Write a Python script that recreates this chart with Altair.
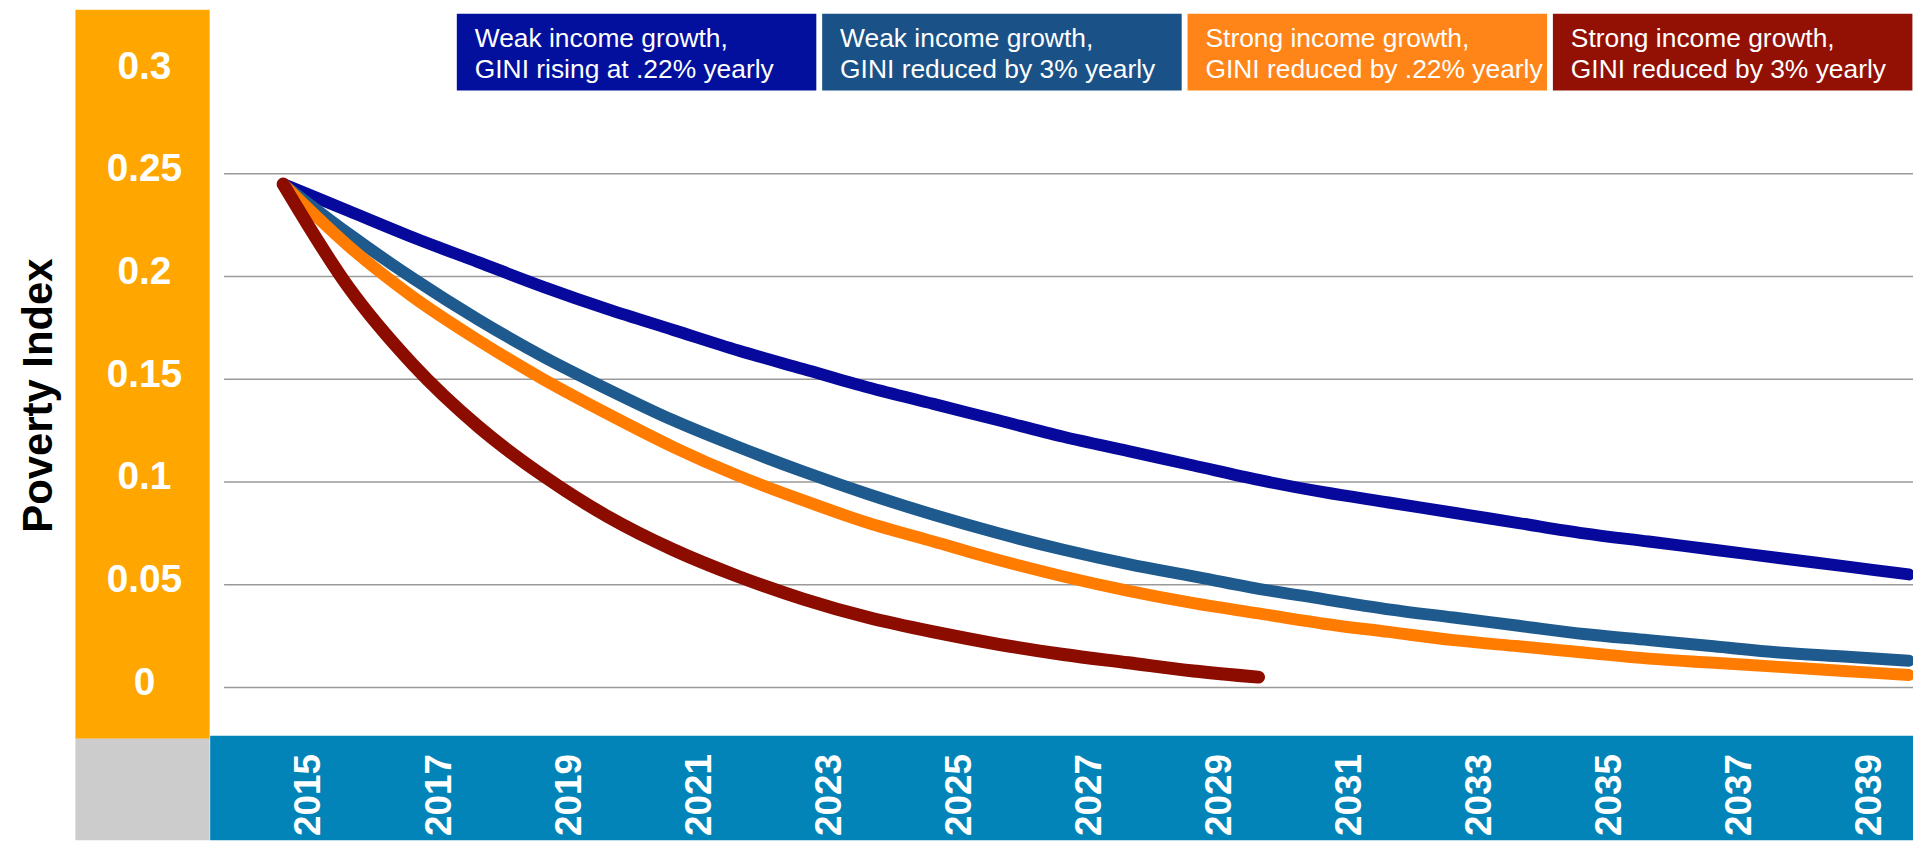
import altair as alt
import pandas as pd

# ---------------- data ----------------
years = list(range(2015, 2041))
years_short = list(range(2015, 2031))

weak_gini_rising = [0.245, 0.232, 0.219, 0.207, 0.195, 0.184, 0.174, 0.164, 0.155,
                    0.146, 0.138, 0.130, 0.122, 0.115, 0.108, 0.101, 0.095, 0.090,
                    0.085, 0.080, 0.075, 0.071, 0.067, 0.063, 0.059, 0.055]
weak_gini_reduced = [0.245, 0.221, 0.199, 0.179, 0.161, 0.145, 0.130, 0.117, 0.105,
                     0.094, 0.084, 0.075, 0.067, 0.060, 0.054, 0.048, 0.043, 0.038,
                     0.034, 0.030, 0.026, 0.023, 0.020, 0.017, 0.015, 0.013]
strong_gini_small = [0.245, 0.215, 0.190, 0.169, 0.150, 0.133, 0.117, 0.103, 0.091,
                     0.080, 0.071, 0.062, 0.054, 0.047, 0.041, 0.036, 0.031, 0.027,
                     0.023, 0.020, 0.017, 0.014, 0.012, 0.010, 0.008, 0.006]
strong_gini_large = [0.245, 0.195, 0.157, 0.127, 0.103, 0.083, 0.067, 0.054, 0.043,
                     0.034, 0.027, 0.021, 0.016, 0.012, 0.008, 0.005]

series_keys = ["weak_rising", "weak_reduced", "strong_small", "strong_large"]
legend_line1 = ["Weak income growth,", "Weak income growth,",
                "Strong income growth,", "Strong income growth,"]
legend_line2 = ["GINI rising at .22% yearly", "GINI reduced by 3% yearly",
                "GINI reduced by .22% yearly", "GINI reduced by 3% yearly"]
line_colors = ["#06099B", "#1E5A8D", "#FF7C00", "#8C0C00"]
box_colors = ["#03109E", "#1A5186", "#FF8519", "#921104"]

y_ticks = [0, 0.05, 0.1, 0.15, 0.2, 0.25, 0.3]
grid_values = [0, 0.05, 0.1, 0.15, 0.2, 0.25]
x_ticks = list(range(2015, 2040, 2))

rows = []
for key, ys, vals in [("weak_rising", years, weak_gini_rising),
                      ("weak_reduced", years, weak_gini_reduced),
                      ("strong_small", years, strong_gini_small),
                      ("strong_large", years_short, strong_gini_large)]:
    for yr, v in zip(ys, vals):
        rows.append({"series": key, "year": yr, "value": v})
lines_df = pd.DataFrame(rows)
grid_df = pd.DataFrame({"value": grid_values})
legend_df = pd.DataFrame({"series": series_keys, "line1": legend_line1, "line2": legend_line2})
one_row = pd.DataFrame({"k": [0]})

# ---------------- layout ----------------
FONT = "Liberation Sans, Arial, Helvetica, sans-serif"
PAD_LEFT = 203
W = 1710
H = 729
PAD_BOTTOM = 105
PX_PER_YEAR = 65.3
FIRST_X = 73.3
ZERO_Y = 680.5
PX_PER_UNIT = 2063.0

x_domain = [2015 - FIRST_X / PX_PER_YEAR, 2015 + (W - FIRST_X) / PX_PER_YEAR]
y_domain = [(ZERO_Y - H) / PX_PER_UNIT, ZERO_Y / PX_PER_UNIT]

x_enc = alt.X(
    "year:Q",
    scale=alt.Scale(domain=x_domain, nice=False, zero=False),
    axis=alt.Axis(
        values=x_ticks, format="d", title=None, grid=False, domain=False,
        ticks=False, tickSize=0, labelAngle=270, labelAlign="right",
        labelBaseline="middle", labelFont=FONT, labelFontSize=37,
        labelFontWeight="bold", labelColor="white", labelPadding=18,
        labelOffset=26, labelFlush=False, labelOverlap=False, zindex=1,
    ),
)
y_enc = alt.Y(
    "value:Q",
    scale=alt.Scale(domain=y_domain, nice=False, zero=False),
    axis=alt.Axis(
        values=y_ticks, format=".2~f", grid=False, domain=False, ticks=False,
        tickSize=0, labelAlign="center", labelBaseline="middle", labelFont=FONT,
        labelFontSize=39, labelFontWeight="bold", labelColor="white",
        labelPadding=66.5, labelOffset=-5, labelFlush=False, labelOverlap=False,
        title="Poverty Index", titleFont=FONT, titleFontSize=42,
        titleFontWeight="bold", titleColor="black", titleAngle=270,
        titleX=-172.5, titleY=387, titleAlign="center", titleBaseline="middle",
        zindex=1,
    ),
)

# decorative panels
orange_panel = alt.Chart(one_row).mark_rect(fill="#FFA600", clip=False).encode(
    x=alt.value(-135.3), x2=alt.value(-0.5), y=alt.value(0), y2=alt.value(732))
gray_panel = alt.Chart(one_row).mark_rect(fill="#CCCCCC", clip=False).encode(
    x=alt.value(-135.3), x2=alt.value(-0.5), y=alt.value(732), y2=alt.value(H + PAD_BOTTOM))
band_panel = alt.Chart(one_row).mark_rect(fill="#0284B8", clip=False).encode(
    x=alt.value(0), x2=alt.value(W), y=alt.value(H), y2=alt.value(H + PAD_BOTTOM))

gridlines = alt.Chart(grid_df).mark_rule(color="#9A9A9A", strokeWidth=1.5).encode(
    y=y_enc, x=alt.value(14), x2=alt.value(W))

color_scale = alt.Scale(domain=series_keys, range=line_colors)
line_layers = []
for key in series_keys:
    sw = 13 if key == "strong_large" else 12
    line_layers.append(
        alt.Chart(lines_df)
        .transform_filter(alt.datum.series == key)
        .mark_line(strokeWidth=sw, strokeCap="round", strokeJoin="round",
                   interpolate="monotone", clip=True)
        .encode(x=x_enc, y=y_enc,
                color=alt.Color("series:N", scale=color_scale, legend=None))
    )
plot_layer = alt.layer(gridlines, *line_layers)

# custom legend boxes
leg_scale = alt.Scale(type="band", domain=series_keys, range=[247.7, 1709.4],
                      paddingInner=0.016, paddingOuter=0)
leg_base = alt.Chart(legend_df)
leg_rect = leg_base.mark_rect(clip=False).encode(
    x=alt.X("series:N", scale=leg_scale, axis=None),
    y=alt.value(4), y2=alt.value(81),
    fill=alt.Fill("series:N", scale=alt.Scale(domain=series_keys, range=box_colors), legend=None),
)
leg_text1 = leg_base.mark_text(align="left", baseline="alphabetic", dx=18, font=FONT,
                               fontSize=26.5, color="white", clip=False).encode(
    x=alt.X("series:N", scale=leg_scale, axis=None, bandPosition=0),
    y=alt.value(37), text="line1:N")
leg_text2 = leg_base.mark_text(align="left", baseline="alphabetic", dx=18, font=FONT,
                               fontSize=26.5, color="white", clip=False).encode(
    x=alt.X("series:N", scale=leg_scale, axis=None, bandPosition=0),
    y=alt.value(69), text="line2:N")
legend_layer = alt.layer(leg_rect, leg_text1, leg_text2)

chart = (
    alt.layer(orange_panel, gray_panel, band_panel, plot_layer, legend_layer)
    .resolve_scale(x="independent")
    .properties(width=W, height=H, autosize="none",
                padding={"left": PAD_LEFT, "top": 0, "right": 0, "bottom": PAD_BOTTOM},
                background="white")
    .configure_view(strokeWidth=0)
)

chart.save("out.html", embed_options={"renderer": "svg", "actions": False})
